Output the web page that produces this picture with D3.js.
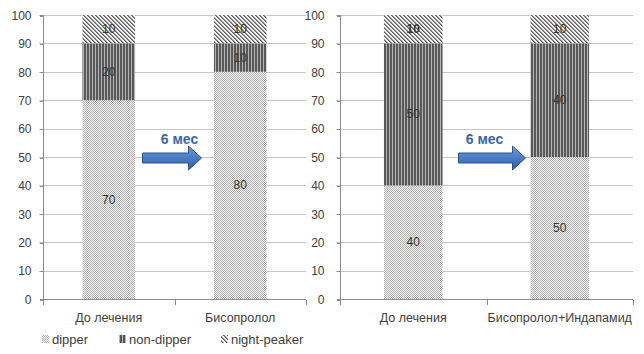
<!DOCTYPE html>
<html lang="ru">
<head>
<meta charset="UTF-8">
<title>dipper / non-dipper / night-peaker</title>
<script src="https://d3js.org/d3.v7.min.js"></script>
<style>
html,body{margin:0;padding:0;background:#fff}
svg{display:block;font-family:"Liberation Sans",Arial,sans-serif}
.grid line{stroke:#c6c6c6;shape-rendering:crispEdges}
.axis path,.axis line{stroke:#8c8c8c;shape-rendering:crispEdges}
.axis text{fill:#404040;font-size:12px}
.xaxis text{font-size:12.5px}
.val{fill:#333;font-size:12px;text-anchor:middle}
.legend text{fill:#404040;font-size:13px}
.period{fill:#3b66a6;font-size:14px;font-weight:bold;text-anchor:middle}
</style>
</head>
<body>
<svg id="chart" width="644" height="354"></svg>
<script>
// series in stacking order (bottom -> top)
var seriesNames = ['dipper', 'non-dipper', 'night-peaker'];
var seriesPattern = ['pDipper', 'pNonDipper', 'pNight'];

// left panel: Бисопролол
var leftCategories = ['До лечения', 'Бисопролол'];
var leftDipper     = [70, 80];
var leftNonDipper  = [20, 10];
var leftNight      = [10, 10];

// right panel: Бисопролол+Индапамид
var rightCategories = ['До лечения', 'Бисопролол+Индапамид'];
var rightDipper     = [40, 50];
var rightNonDipper  = [50, 40];
var rightNight      = [10, 10];

var yTicks = [0, 10, 20, 30, 40, 50, 60, 70, 80, 90, 100];
var periodLabel = '6 мес';

var svg = d3.select('#chart');
var defs = svg.append('defs');

// hatch fills
var pd = defs.append('pattern').attr('id', 'pDipper').attr('patternUnits', 'userSpaceOnUse')
  .attr('width', 2).attr('height', 2);
pd.append('rect').attr('width', 2).attr('height', 2).attr('fill', '#fbfbfb');
pd.append('rect').attr('width', 1).attr('height', 1).attr('fill', '#ababab');
pd.append('rect').attr('x', 1).attr('y', 1).attr('width', 1).attr('height', 1).attr('fill', '#ababab');

var pn = defs.append('pattern').attr('id', 'pNonDipper').attr('patternUnits', 'userSpaceOnUse')
  .attr('width', 3).attr('height', 3);
pn.append('rect').attr('width', 3).attr('height', 3).attr('fill', '#b4b4b4');
pn.append('rect').attr('width', 2).attr('height', 3).attr('fill', '#585858');

var pk = defs.append('pattern').attr('id', 'pNight').attr('patternUnits', 'userSpaceOnUse')
  .attr('width', 4).attr('height', 4);
pk.append('rect').attr('width', 4).attr('height', 4).attr('fill', '#f2f2f2');
[0, 1, 2, 3].forEach(function(i) {
  pk.append('rect').attr('x', i).attr('y', i).attr('width', 1).attr('height', 1).attr('fill', '#5e5e5e');
  pk.append('rect').attr('x', (i + 1) % 4).attr('y', i).attr('width', 1).attr('height', 1).attr('fill', '#959595');
});

var grad = defs.append('linearGradient').attr('id', 'arrowFill')
  .attr('x1', 0).attr('y1', 0).attr('x2', 0).attr('y2', 1);
grad.append('stop').attr('offset', '0%').attr('stop-color', '#6f9be0');
grad.append('stop').attr('offset', '50%').attr('stop-color', '#4a7cc4');
grad.append('stop').attr('offset', '100%').attr('stop-color', '#2f5fa6');

function drawPanel(opts) {
  var x = d3.scaleBand().domain(opts.categories).range([opts.x0, opts.x1]).paddingInner(0.6).paddingOuter(0.3);
  var y = d3.scaleLinear().domain([0, 100]).range([299, 15]);
  var g = svg.append('g');

  // gridlines
  g.append('g').attr('class', 'grid').selectAll('line').data(yTicks.slice(1)).join('line')
    .attr('x1', opts.x0 - 4).attr('x2', opts.x1)
    .attr('y1', function(d) { return Math.round(y(d)) + 0.5; })
    .attr('y2', function(d) { return Math.round(y(d)) + 0.5; });

  // y axis
  var ya = g.append('g').attr('class', 'axis').attr('transform', 'translate(' + (opts.x0 + 0.5) + ',0.5)')
    .call(d3.axisLeft(y).tickValues(yTicks).tickSize(4).tickPadding(opts.pad));
  ya.select('.domain').attr('d', 'M-4,' + y(100) + 'H0V' + y(0) + 'H-4');

  // x axis with boundary ticks
  var xa = g.append('g').attr('class', 'axis xaxis').attr('transform', 'translate(0,' + (y(0) + 0.5) + ')');
  xa.append('line').attr('x1', opts.x0).attr('x2', opts.x1);
  var bounds = [opts.x0, (opts.x0 + opts.x1) / 2, opts.x1];
  xa.selectAll('line.tk').data(bounds).join('line').attr('class', 'tk')
    .attr('x1', function(d) { return Math.round(d) + 0.5; }).attr('x2', function(d) { return Math.round(d) + 0.5; })
    .attr('y1', 0).attr('y2', 5);
  xa.selectAll('text').data(opts.categories).join('text')
    .attr('x', function(d) { return x(d) + x.bandwidth() / 2; })
    .attr('y', 22).attr('text-anchor', 'middle').text(function(d) { return d; });

  // stacked bars
  var rows = opts.categories.map(function(c, i) {
    return { cat: c, 'dipper': opts.dipper[i], 'non-dipper': opts.nonDipper[i], 'night-peaker': opts.night[i] };
  });
  var stack = d3.stack().keys(seriesNames)(rows);
  var layers = g.selectAll('g.layer').data(stack).join('g').attr('class', 'layer')
    .attr('fill', function(d, i) { return 'url(#' + seriesPattern[i] + ')'; });
  layers.selectAll('rect').data(function(d) { return d; }).join('rect')
    .attr('x', function(d) { return x(d.data.cat); })
    .attr('y', function(d) { return y(d[1]); })
    .attr('width', x.bandwidth())
    .attr('height', function(d) { return y(d[0]) - y(d[1]); });
  layers.selectAll('text').data(function(d) { return d; }).join('text')
    .attr('class', 'val')
    .attr('x', function(d) { return x(d.data.cat) + x.bandwidth() / 2; })
    .attr('y', function(d) { return y((d[0] + d[1]) / 2) + 4; })
    .attr('fill', '#333')
    .style('font-weight', function(d, i) { return opts.boldTop && d[1] === 100 && i === 0 ? 'bold' : null; })
    .text(function(d) { return d[1] - d[0]; });

  // "6 мес" arrow between the two bars
  var mid = (opts.x0 + opts.x1) / 2;
  var ax0 = mid + opts.arrow[0], ax1 = mid + opts.arrow[1], ay = y(50) + 1;
  var head = 13, bh = 5, hh = 12;
  g.append('path')
    .attr('d', 'M' + ax0 + ',' + (ay - bh) + 'H' + (ax1 - head) + 'V' + (ay - hh) + 'L' + ax1 + ',' + ay +
      'L' + (ax1 - head) + ',' + (ay + hh) + 'V' + (ay + bh) + 'H' + ax0 + 'Z')
    .attr('fill', 'url(#arrowFill)').attr('stroke', '#2c5490').attr('stroke-width', 1);
  g.append('text').attr('class', 'period')
    .attr('x', mid + opts.labelDx).attr('y', y(50) - 13).text(periodLabel);
}

drawPanel({ categories: leftCategories, dipper: leftDipper, nonDipper: leftNonDipper, night: leftNight,
  x0: 43, x1: 306, pad: 8, arrow: [-32, 27], labelDx: 5 });
drawPanel({ categories: rightCategories, dipper: rightDipper, nonDipper: rightNonDipper, night: rightNight,
  x0: 340, x1: 633, pad: 12, arrow: [-28, 39], labelDx: -2, boldTop: true });

// legend (under left panel)
var legendX = [42, 119, 221];
var lg = svg.append('g').attr('class', 'legend');
seriesNames.forEach(function(name, i) {
  lg.append('rect').attr('x', legendX[i]).attr('y', 335).attr('width', 7).attr('height', 8)
    .attr('fill', 'url(#' + seriesPattern[i] + ')');
  lg.append('text').attr('x', legendX[i] + 10).attr('y', 344).text(name);
});
</script>
</body>
</html>
